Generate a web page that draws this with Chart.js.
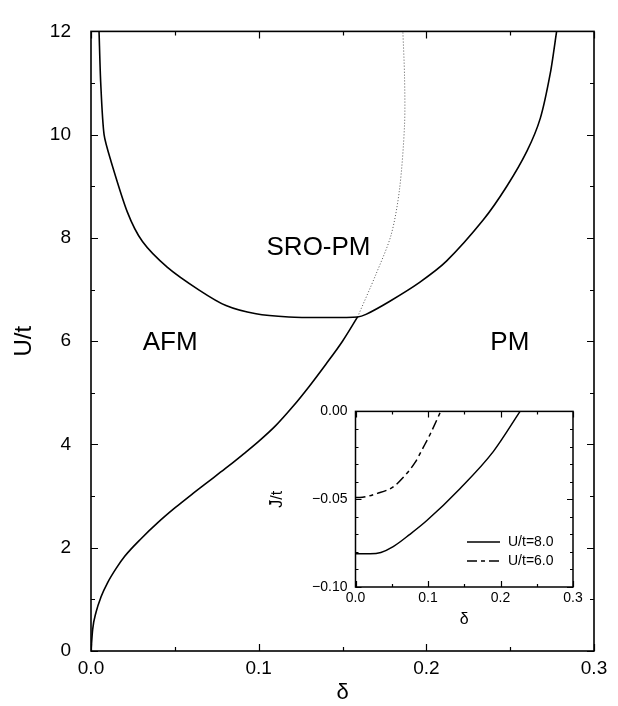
<!DOCTYPE html>
<html>
<head>
<meta charset="utf-8">
<script src="https://cdn.jsdelivr.net/npm/chart.js@4.4.1/dist/chart.umd.min.js"></script>
<style>
  html, body { margin: 0; padding: 0; background: #fff; }
  #wrap { position: relative; width: 618px; height: 706px; }
  #main { position: absolute; left: 0; top: 0; }
  #inset { position: absolute; left: 255px; top: 395px; }
</style>
</head>
<body>
<div id="wrap">
  <canvas id="main" width="618" height="706"></canvas>
  <canvas id="inset" width="340" height="240"></canvas>
</div>
<script>
// phase boundaries, main panel (delta, U/t)
const afmDelta = [0, 0.001, 0.003, 0.006, 0.01, 0.015, 0.02, 0.03, 0.04, 0.05, 0.06, 0.07, 0.08, 0.09, 0.10, 0.11, 0.12, 0.13, 0.14, 0.15, 0.159];
const afmU     = [0, 0.42, 0.75, 1.05, 1.33, 1.6, 1.83, 2.18, 2.49, 2.77, 3.03, 3.28, 3.53, 3.79, 4.06, 4.36, 4.72, 5.12, 5.55, 6.0, 6.47];

const sroDelta = [0.0048, 0.0058, 0.0078, 0.0118, 0.0217, 0.0307, 0.0456, 0.0645, 0.0805, 0.0984, 0.118, 0.138, 0.159, 0.164, 0.178, 0.196, 0.212, 0.234, 0.248, 0.260, 0.268, 0.274, 0.2777];
const sroU     = [12.0, 11.0, 10.0, 9.5, 8.5, 7.93, 7.43, 6.99, 6.69, 6.53, 6.47, 6.46, 6.47, 6.52, 6.77, 7.14, 7.55, 8.35, 9.0, 9.68, 10.32, 11.2, 12.0];

const dotDelta = [0.159, 0.170, 0.179, 0.184, 0.187, 0.187, 0.186];
const dotU     = [6.47, 7.30, 8.06, 8.94, 10.19, 11.13, 12.0];

// inset: J/t vs delta
const j8Delta = [0, 0.02, 0.035, 0.052, 0.075, 0.098, 0.144, 0.19, 0.227];
const j8      = [-0.081, -0.081, -0.0803, -0.077, -0.070, -0.0623, -0.044, -0.0229, 0];
const j6Delta = [0, 0.006, 0.03, 0.052, 0.066, 0.082, 0.0935, 0.103, 0.1175];
const j6      = [-0.049, -0.049, -0.0467, -0.043, -0.0375, -0.0292, -0.0205, -0.013, 0];

const regionNames = ['AFM', 'SRO-PM', 'PM'];
const legendNames = ['U/t=8.0', 'U/t=6.0'];

const FONT = "'Liberation Sans', Arial, Helvetica, sans-serif";

function pts(xs, ys) {
    return xs.map((v, i) => ({ x: v, y: ys[i] }));
}

// box around the plot area with inward ticks on all four sides
const frameTicks = {
    id: 'frameTicks',
    afterDraw(chart, args, o) {
        const { ctx, chartArea: a, scales: { x, y } } = chart;
        ctx.save();
        ctx.strokeStyle = '#000';
        ctx.lineWidth = o.lineWidth;
        ctx.strokeRect(a.left, a.top, a.right - a.left, a.bottom - a.top);
        ctx.lineWidth = 1.2;
        ctx.beginPath();
        const nx = Math.round((x.max - x.min) / o.xMinor);
        for (let i = 0; i <= nx; i++) {
            const v = x.min + i * o.xMinor;
            const len = (i % o.xEvery === 0) ? o.major : o.minor;
            const px = Math.round(x.getPixelForValue(v)) + 0.5;
            ctx.moveTo(px, a.bottom); ctx.lineTo(px, a.bottom - len);
            ctx.moveTo(px, a.top); ctx.lineTo(px, a.top + len);
        }
        const ny = Math.round((y.max - y.min) / o.yMinor);
        for (let i = 0; i <= ny; i++) {
            const v = y.min + i * o.yMinor;
            const len = (i % o.yEvery === 0) ? o.major : o.minor;
            const py = Math.round(y.getPixelForValue(v)) + 0.5;
            ctx.moveTo(a.left, py); ctx.lineTo(a.left + len, py);
            ctx.moveTo(a.right, py); ctx.lineTo(a.right - len, py);
        }
        ctx.stroke();
        ctx.restore();
    }
};

const regionLabels = {
    id: 'regionLabels',
    afterDatasetsDraw(chart, args, o) {
        if (!o.items) return;
        const { ctx, scales: { x, y } } = chart;
        ctx.save();
        ctx.fillStyle = '#000';
        ctx.font = o.font;
        ctx.textAlign = 'center';
        ctx.textBaseline = 'middle';
        o.items.forEach(it => {
            ctx.fillText(it.text, x.getPixelForValue(it.x), y.getPixelForValue(it.y));
        });
        ctx.restore();
    }
};

const insetLegend = {
    id: 'insetLegend',
    beforeDraw(chart) {
        const { ctx, chartArea: a } = chart;
        ctx.save();
        ctx.fillStyle = '#fff';
        ctx.fillRect(a.left, a.top, a.right - a.left, a.bottom - a.top);
        ctx.restore();
    },
    afterDatasetsDraw(chart, args, o) {
        if (!o.show) return;
        const { ctx, chartArea: a } = chart;
        ctx.save();
        ctx.font = o.font;
        ctx.fillStyle = '#000';
        ctx.textBaseline = 'middle';
        chart.data.datasets.forEach((ds, i) => {
            const yy = a.bottom - o.bottom + i * o.gap;
            ctx.strokeStyle = '#000';
            ctx.lineWidth = ds.borderWidth;
            ctx.setLineDash(ds.borderDash || []);
            ctx.beginPath();
            ctx.moveTo(a.right - o.lineStart, yy);
            ctx.lineTo(a.right - o.lineEnd, yy);
            ctx.stroke();
            ctx.setLineDash([]);
            ctx.fillText(ds.label, a.right - o.textStart, yy);
        });
        ctx.restore();
    }
};

const line = { showLine: true, pointRadius: 0, borderColor: '#000', borderWidth: 1.6, cubicInterpolationMode: 'monotone', fill: false };

new Chart(document.getElementById('main'), {
    type: 'scatter',
    data: {
        datasets: [
            Object.assign({ label: 'AFM boundary', data: pts(afmDelta, afmU) }, line),
            Object.assign({ label: 'SRO-PM boundary', data: pts(sroDelta, sroU) }, line,
                { cubicInterpolationMode: 'default', tension: 0.25 }),
            Object.assign({ label: 'crossover', data: pts(dotDelta, dotU) }, line,
                { cubicInterpolationMode: 'default', tension: 0.3, borderWidth: 1, borderColor: '#555', borderDash: [1, 2] })
        ]
    },
    options: {
        responsive: false,
        animation: false,
        layout: { padding: { left: 0, right: 24, top: 14, bottom: 0 } },
        plugins: {
            legend: { display: false },
            tooltip: { enabled: false },
            frameTicks: { lineWidth: 1.6, xMinor: 0.05, xEvery: 2, yMinor: 1, yEvery: 2, major: 7, minor: 4 },
            regionLabels: {
                font: '26px ' + FONT,
                items: [
                    { text: regionNames[0], x: 0.0472, y: 5.97 },
                    { text: regionNames[1], x: 0.1357, y: 7.8 },
                    { text: regionNames[2], x: 0.2498, y: 5.97 }
                ]
            }
        },
        scales: {
            x: {
                type: 'linear', min: 0, max: 0.3,
                grid: { display: false, drawTicks: false },
                border: { display: false },
                ticks: { stepSize: 0.1, maxRotation: 0, autoSkip: false, padding: 6, color: '#000',
                         font: { family: FONT, size: 19 }, callback: v => v.toFixed(1) },
                title: { display: true, text: 'δ', color: '#000', font: { family: FONT, size: 22 },
                         padding: { top: 0, bottom: 0 } },
                afterFit(s) { s.height = 55; }
            },
            y: {
                type: 'linear', min: 0, max: 12,
                grid: { display: false, drawTicks: false },
                border: { display: false },
                ticks: { stepSize: 2, padding: 20, color: '#000', font: { family: FONT, size: 19 } },
                title: { display: true, text: 'U/t', color: '#000', font: { family: FONT, size: 24 },
                         padding: { top: 10, bottom: 0 } },
                afterFit(s) { s.width = 91; }
            }
        }
    },
    plugins: [frameTicks, regionLabels]
});

new Chart(document.getElementById('inset'), {
    type: 'scatter',
    data: {
        datasets: [
            Object.assign({ label: legendNames[0], data: pts(j8Delta, j8) }, line, { borderWidth: 1.5 }),
            Object.assign({ label: legendNames[1], data: pts(j6Delta, j6) }, line, { borderWidth: 1.5, borderDash: [10, 4, 4, 4] })
        ]
    },
    options: {
        responsive: false,
        animation: false,
        layout: { padding: { left: 0, right: 22, top: 10, bottom: 0 } },
        plugins: {
            legend: { display: false },
            tooltip: { enabled: false },
            frameTicks: { lineWidth: 1.5, xMinor: 0.05, xEvery: 2, yMinor: 0.01, yEvery: 5, major: 6, minor: 3 },
            insetLegend: { show: true, font: '14px ' + FONT, bottom: 45, gap: 19, lineStart: 106, lineEnd: 73, textStart: 65 }
        },
        scales: {
            x: {
                type: 'linear', min: 0, max: 0.3,
                grid: { display: false, drawTicks: false },
                border: { display: false },
                ticks: { stepSize: 0.1, maxRotation: 0, autoSkip: false, padding: 3, color: '#000',
                         font: { family: FONT, size: 14 }, callback: v => v.toFixed(1) },
                title: { display: true, text: 'δ', color: '#000', font: { family: FONT, size: 16 },
                         padding: { top: 0, bottom: 6 } },
                afterFit(s) { s.height = 48; }
            },
            y: {
                type: 'linear', min: -0.1, max: 0,
                grid: { display: false, drawTicks: false },
                border: { display: false },
                ticks: { stepSize: 0.05, padding: 8, color: '#000', font: { family: FONT, size: 14 },
                         callback: v => (Math.abs(v) < 1e-9 ? '0.00' : v.toFixed(2).replace('-', '\u2212')) },
                title: { display: true, text: 'J\u0304/t', color: '#000', font: { family: FONT, size: 16 },
                         padding: { top: 13, bottom: 0 } },
                afterFit(s) { s.width = 100.5; }
            }
        }
    },
    plugins: [insetLegend, frameTicks]
});
</script>
</body>
</html>
